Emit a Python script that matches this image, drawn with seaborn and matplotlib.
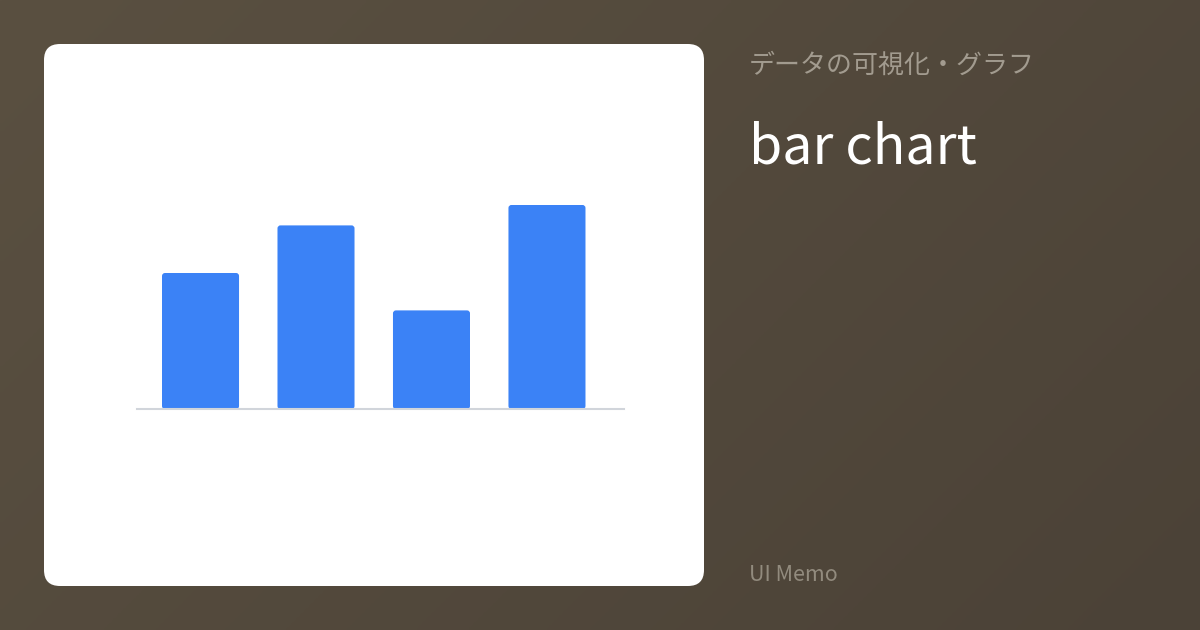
import numpy as np
import seaborn as sns
from matplotlib import pyplot as plt
from matplotlib.patches import FancyBboxPatch

categories = ['A', 'B', 'C', 'D']
values = [40, 54, 29, 60]

subtitle = 'データの可視化・グラフ'
title = 'bar chart'
footer = 'UI Memo'

sns.set_theme(style='white')
plt.rcParams['font.family'] = ['Noto Sans CJK JP', 'DejaVu Sans']

fig = plt.figure(figsize=(12, 6.3), dpi=100)

# background in pixel coordinates
bg = fig.add_axes([0, 0, 1, 1], zorder=0)
bg.set_xlim(0, 1200)
bg.set_ylim(630, 0)
bg.axis('off')
grad = np.linspace(0, 1, 256)
gx, gy = np.meshgrid(grad, grad)
t = (gx * 1200 + gy * 630) / 1830
c0 = np.array([0x5a, 0x50, 0x41]) / 255
c1 = np.array([0x4b, 0x42, 0x37]) / 255
img = c0[None, None, :] * (1 - t[..., None]) + c1[None, None, :] * t[..., None]
bg.imshow(img, extent=(0, 1200, 630, 0), aspect='auto', zorder=0)

card = FancyBboxPatch((44, 44), 660, 542, boxstyle='round,pad=0,rounding_size=16',
                      facecolor='white', edgecolor='none', zorder=1)
bg.add_patch(card)

bg.text(749, 65, subtitle, fontsize=18.7, color='#a29b8f', va='center', ha='left')
bg.text(749, 163, title, fontsize=38.7, color='white', va='baseline', ha='left')
bg.text(749, 581, footer, fontsize=15.5, color='#928b7e', va='baseline', ha='left')

# chart
ax = fig.add_axes([137 / 1200, (630 - 409) / 630, 487 / 1200, 204 / 630], zorder=2)
ax.patch.set_alpha(0)
sns.barplot(x=categories, y=values, color='#3b82f6', saturation=1, width=0.667, ax=ax)
ax.set_xlim(-0.55, 3.667)
ax.set_ylim(0, 60)
ax.set_xticks([])
ax.set_yticks([])
ax.set_xlabel('')
ax.set_ylabel('')
for s in ['top', 'left', 'right']:
    ax.spines[s].set_visible(False)
ax.spines['bottom'].set_color('#d1d5db')
ax.spines['bottom'].set_linewidth(1.5)
ax.spines['bottom'].set_zorder(0)

# round the bar corners
inv = bg.transData.inverted()
for p in ax.patches:
    ext = p.get_window_extent()
    (x0, y0), (x1, y1) = inv.transform([[ext.x0, ext.y0], [ext.x1, ext.y1]])
    rb = FancyBboxPatch((min(x0, x1), min(y0, y1)), abs(x1 - x0), abs(y1 - y0),
                        boxstyle='round,pad=0,rounding_size=3',
                        facecolor='#3b82f6', edgecolor='none', zorder=3)
    bg.add_patch(rb)
    p.set_visible(False)
bg.set_zorder(0)

fig.savefig('out.png', dpi=100)
